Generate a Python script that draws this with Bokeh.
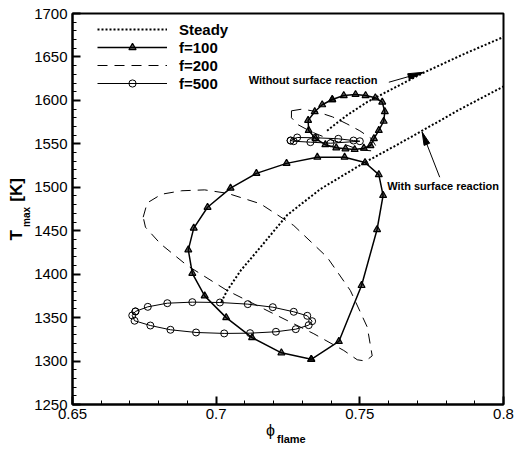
import math
from bokeh.plotting import figure
from bokeh.models import (SingleIntervalTicker, CustomJSTickFormatter, Legend,
                          LegendItem, Label, Title)
from bokeh.embed import file_html
from bokeh.resources import INLINE

NaN = float("nan")

# ---------------- data ----------------
steady_phi = [0.7018, 0.7038, 0.7085, 0.7154, 0.7247, 0.7363, 0.7514, 0.7636, 0.7711, 0.7850, 0.8000,
              NaN,
              0.7386, 0.7420, 0.7456, 0.7525, 0.7600, 0.7723, 0.7860, 0.8000]
steady_T = [1368, 1381, 1404, 1431, 1468, 1498, 1528, 1550, 1564, 1590, 1616,
            NaN,
            1565, 1574, 1583, 1598, 1611, 1632, 1653, 1673]

f100_phi = [0.7331, 0.7227, 0.7125, 0.7035, 0.6960, 0.6917, 0.6903, 0.6922, 0.6970, 0.7050,
            0.7140, 0.7245, 0.7352, 0.7447, 0.7518, 0.7566, 0.7581, 0.7560, 0.7506, 0.7427, 0.7331,
            NaN,
            0.7404, 0.7444, 0.7485, 0.7520, 0.7554, 0.7578, 0.7587, 0.7583, 0.7566, 0.7549, 0.7537,
            0.7514, 0.7482, 0.7450, 0.7418, 0.7380, 0.7346, 0.7322, 0.7320, 0.7343, 0.7369, 0.7404]
f100_T = [1302, 1309.5, 1327, 1350, 1375, 1401, 1428, 1453, 1477, 1499,
          1516, 1527.5, 1534.6, 1534.6, 1528.5, 1514.5, 1490.6, 1451.4, 1387, 1322.6, 1302,
          NaN,
          1601, 1605.6, 1606.8, 1605.6, 1603, 1598, 1587, 1576, 1565.4, 1556, 1548,
          1545, 1543.5, 1544.3, 1545.4, 1549, 1556, 1565.4, 1577, 1587, 1595, 1601]

f200_phi = [0.6746, 0.6760, 0.6810, 0.6880, 0.6960, 0.7040, 0.7154, 0.7270, 0.7386, 0.7467, 0.7526,
            0.7543, 0.7520, 0.7491, 0.7444, 0.7340, 0.7200, 0.7038, 0.6899, 0.6806, 0.6754, 0.6746,
            NaN,
            0.7262, 0.7300, 0.7350, 0.7405, 0.7455, 0.7500, 0.7540, 0.7555, 0.7540, 0.7500, 0.7450,
            0.7390, 0.7330, 0.7285, 0.7262, 0.7262]
f200_T = [1465.6, 1482, 1492, 1496, 1497, 1493, 1481, 1456, 1419.6, 1381.2, 1339,
          1306, 1300, 1301.5, 1312.2, 1331.4, 1354.4, 1381.2, 1410, 1435, 1454, 1465.6,
          NaN,
          1588, 1590, 1587, 1581, 1573, 1565, 1556, 1548, 1542, 1543, 1549,
          1556, 1564, 1572, 1580, 1588]

f500_phi = [0.6719, 0.6762, 0.6830, 0.6917, 0.7013, 0.7110, 0.7197, 0.7270, 0.7317, 0.7334,
            0.7322, 0.7277, 0.7208, 0.7118, 0.7028, 0.6930, 0.6841, 0.6771, 0.6716, 0.6708, 0.6719,
            NaN,
            0.7259, 0.7282, 0.7346, 0.7425, 0.7478, 0.7500, 0.7398, 0.7328, 0.7270, 0.7259]
f500_T = [1357.1, 1362.4, 1366.6, 1367.8, 1367.4, 1365.5, 1362.0, 1356.7, 1352.1, 1345.9,
          1341.3, 1336.7, 1333.7, 1332.1, 1331.8, 1332.9, 1336.0, 1340.9, 1346.4, 1352.5, 1357.1,
          NaN,
          1553.8, 1557.3, 1557.0, 1555.8, 1553.8, 1553.0, 1550.7, 1551.9, 1553.0, 1553.8]

x_ticks = [0.65, 0.70, 0.75, 0.80]
y_ticks = [1250, 1300, 1350, 1400, 1450, 1500, 1550, 1600, 1650, 1700]

arrow_without = (0.7601, 1620.9, 0.7723, 1632.4)
arrow_with = (0.7778, 1511.6, 0.7717, 1563.4)

# ---------------- layout ----------------
W, H = 518, 450
FL, FR, FT, FB = 72, 503, 13, 404
X0, X1, Y0, Y1 = 0.65, 0.80, 1250, 1700
FONT = "Liberation Sans"
NB = "\u00a0"


def px2x(px):
    return X0 + (px - FL) * (X1 - X0) / (FR - FL)


def px2y(py):
    return Y1 - (py - FT) * (Y1 - Y0) / (FB - FT)


def x2px(x):
    return FL + (x - X0) * (FR - FL) / (X1 - X0)


def y2px(y):
    return FT + (Y1 - y) * (FB - FT) / (Y1 - Y0)


p = figure(width=W, height=H, x_range=(X0, X1), y_range=(Y0, Y1),
           output_backend="svg", toolbar_location=None,
           min_border_left=FL, min_border_right=W - FR,
           min_border_top=FT, min_border_bottom=H - FB)
p.background_fill_color = "white"
p.border_fill_color = "white"
p.outline_line_color = "black"
p.outline_line_width = 2
p.xgrid.visible = False
p.ygrid.visible = False

p.xaxis.ticker = SingleIntervalTicker(interval=0.05, num_minor_ticks=5)
p.yaxis.ticker = SingleIntervalTicker(interval=50, num_minor_ticks=5)
p.xaxis.formatter = CustomJSTickFormatter(code="return String(Number(tick.toFixed(2)));")
p.yaxis.formatter = CustomJSTickFormatter(code="return String(Math.round(tick));")
for ax in (p.xaxis, p.yaxis):
    ax.axis_line_width = 2
    ax.axis_line_color = "black"
    ax.major_tick_in = 8
    ax.major_tick_out = 0
    ax.minor_tick_in = 4
    ax.minor_tick_out = 0
    ax.major_tick_line_width = 2
    ax.minor_tick_line_width = 1
    ax.major_tick_line_color = "black"
    ax.minor_tick_line_color = "black"
    ax.major_label_text_font = FONT
    ax.major_label_text_font_size = "15px"
    ax.major_label_text_color = "black"
p.xaxis.major_label_standoff = 4
p.yaxis.major_label_standoff = 5

# ---------------- curves ----------------
r_steady = p.line(steady_phi, steady_T, line_color="black", line_width=2, line_dash="2 2")
r_200 = p.line(f200_phi, f200_T, line_color="black", line_width=1, line_dash="10 7")
r_500l = p.line(f500_phi, f500_T, line_color="black", line_width=1)
r_500m = p.scatter(f500_phi, f500_T, marker="circle", size=7, line_color="black",
                   line_width=1, fill_alpha=0)
r_100l = p.line(f100_phi, f100_T, line_color="black", line_width=1.5)
r_100m = p.scatter(f100_phi, f100_T, marker="triangle", size=7, line_color="black",
                   line_width=1.2, fill_color="black", fill_alpha=0.6)

legend = Legend(items=[
    LegendItem(label="Steady", renderers=[r_steady]),
    LegendItem(label="f=100", renderers=[r_100l, r_100m]),
    LegendItem(label="f=200", renderers=[r_200]),
    LegendItem(label="f=500", renderers=[r_500l, r_500m]),
], location=(25, 312))
legend.glyph_width = 70
legend.glyph_height = 18
legend.label_height = 18
legend.spacing = 0
legend.padding = 0
legend.margin = 0
legend.label_standoff = 12
legend.label_text_font = FONT
legend.label_text_font_size = "15px"
legend.label_text_font_style = "bold"
legend.label_text_color = "black"
legend.border_line_alpha = 0
legend.background_fill_alpha = 0
p.add_layout(legend)


def head(arrow, length, half_w):
    tx, ty, hx, hy = arrow
    ax_, ay_ = x2px(tx), y2px(ty)
    bx_, by_ = x2px(hx), y2px(hy)
    dx, dy = bx_ - ax_, by_ - ay_
    n = math.hypot(dx, dy)
    ux, uy = dx / n, dy / n
    cx, cy = bx_ - ux * length, by_ - uy * length
    pts = [(bx_, by_), (cx - uy * half_w, cy + ux * half_w), (cx + uy * half_w, cy - ux * half_w)]
    return [px2x(a) for a, b in pts], [px2y(b) for a, b in pts]


for arr, L in ((arrow_without, 16), (arrow_with, 13)):
    p.segment(x0=[arr[0]], y0=[arr[1]], x1=[arr[2]], y1=[arr[3]], line_color="black", line_width=1)
    hx, hy = head(arr, L, 3)
    p.patch(hx, hy, fill_color="black", line_color="black", line_width=1)

p.add_layout(Label(x=px2x(377), y=px2y(79.5), text="Without surface reaction",
                   text_font=FONT, text_font_size="11px", text_font_style="bold",
                   text_color="black", text_align="right", text_baseline="middle"))
p.add_layout(Label(x=px2x(386.7), y=px2y(185.7), text="With surface reaction",
                   text_font=FONT, text_font_size="11px", text_font_style="bold",
                   text_color="black", text_align="left", text_baseline="middle"))

# ---------------- axis titles (as side-panel titles) ----------------
# y: subscript "max" next to the tick labels, then "T ... [K]" further out
p.add_layout(Title(text="max", align="left", offset=FB - 226.5, standoff=0,
                   vertical_align="bottom", text_font=FONT, text_font_size="10px",
                   text_font_style="bold", text_color="black"), "left")
p.add_layout(Title(text="T" + NB * 6 + "[K]", align="left", offset=FB - 240, standoff=-15,
                   vertical_align="bottom", text_font=FONT, text_font_size="17px",
                   text_font_style="bold", text_color="black"), "left")
# x: phi, then the "flame" subscript
p.add_layout(Title(text="\u03d5", align="left", offset=265.5 - FL, standoff=1,
                   vertical_align="top", text_font=FONT, text_font_size="16px",
                   text_font_style="normal", text_color="black"), "below")
p.add_layout(Title(text="flame", align="left", offset=276.5 - FL, standoff=-17,
                   vertical_align="top", text_font=FONT, text_font_size="11px",
                   text_font_style="bold", text_color="black"), "below")

open("out.html", "w").write(file_html(p, INLINE))
